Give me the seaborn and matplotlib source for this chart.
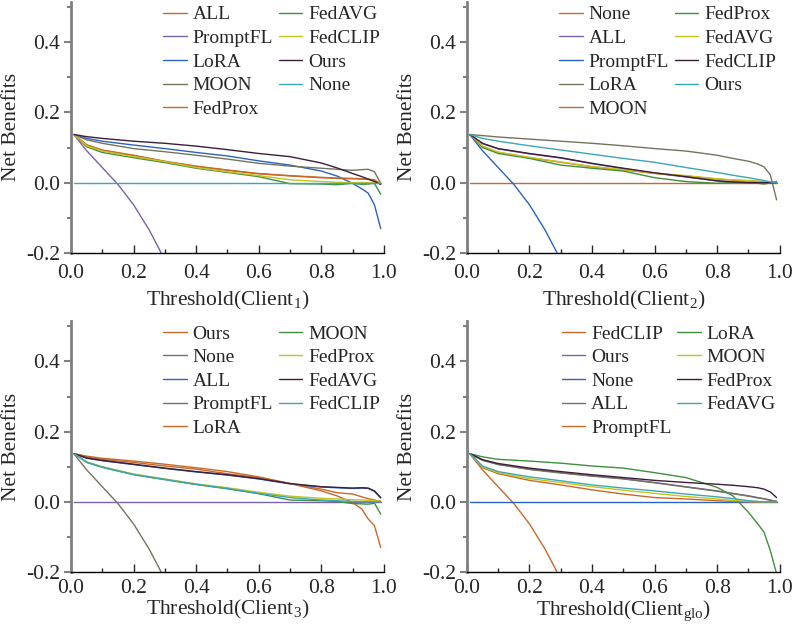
import matplotlib
matplotlib.use("Agg")
import matplotlib.pyplot as plt
import seaborn as sns
from matplotlib import font_manager
from matplotlib.ticker import MultipleLocator, FormatStrFormatter

# colour cycle used in every panel (legend order)
COLORS = ["#C8692A", "#7A62A6", "#2B62C0", "#74745E", "#C8692A",
          "#3F8F3F", "#C4C41E", "#3C1E3C", "#3DA6B6"]

X = [0.01, 0.05, 0.1, 0.2, 0.3, 0.4, 0.5, 0.6, 0.7, 0.8, 0.85, 0.9, 0.93, 0.95, 0.97, 0.99]
ZERO = [0.0] * len(X)

# treat-all curve (steep one)
TA_X = [0.01, 0.05, 0.1, 0.15, 0.2, 0.25, 0.3]
TA_Y = [0.136, 0.091, 0.043, -0.005, -0.063, -0.135, -0.22]

# ---- Client 1 ----
c1_labels = ["ALL", "PromptFL", "LoRA", "MOON", "FedProx", "FedAVG", "FedCLIP", "Ours", "None"]
c1_all = [0.137, 0.107, 0.092, 0.077, 0.060, 0.046, 0.035, 0.025, 0.019, 0.014, 0.012, 0.011, 0.010, 0.009, 0.007, -0.004]
c1_lora = [0.137, 0.126, 0.118, 0.107, 0.097, 0.086, 0.076, 0.062, 0.050, 0.033, 0.019, -0.002, -0.018, -0.030, -0.063, -0.131]
c1_moon = [0.137, 0.122, 0.112, 0.097, 0.088, 0.078, 0.067, 0.055, 0.047, 0.041, 0.038, 0.035, 0.037, 0.038, 0.031, -0.002]
c1_fedprox = [0.137, 0.108, 0.093, 0.078, 0.061, 0.047, 0.036, 0.026, 0.020, 0.015, 0.013, 0.012, 0.011, 0.010, 0.008, -0.004]
c1_fedavg = [0.137, 0.102, 0.086, 0.071, 0.057, 0.041, 0.029, 0.017, -0.003, -0.004, -0.006, -0.002, -0.005, -0.004, -0.002, -0.033]
c1_fedclip = [0.137, 0.105, 0.090, 0.074, 0.060, 0.043, 0.031, 0.020, 0.008, 0.003, 0.001, 0.000, 0.000, 0.000, 0.000, -0.002]
c1_ours = [0.137, 0.131, 0.126, 0.118, 0.112, 0.104, 0.094, 0.083, 0.074, 0.056, 0.042, 0.026, 0.017, 0.010, 0.003, -0.005]

# ---- Client 2 ----
c2_labels = ["None", "ALL", "PromptFL", "LoRA", "MOON", "FedProx", "FedAVG", "FedCLIP", "Ours"]
c2_all = [0.137, 0.111, 0.096, 0.082, 0.070, 0.054, 0.040, 0.027, 0.016, 0.005, 0.002, 0.000, 0.000, 0.000, 0.000, 0.000]
c2_lora = [0.137, 0.134, 0.130, 0.124, 0.118, 0.112, 0.105, 0.097, 0.090, 0.078, 0.069, 0.061, 0.053, 0.045, 0.022, -0.049]
c2_moon = [0.137, 0.103, 0.086, 0.071, 0.058, 0.045, 0.036, 0.026, 0.019, 0.010, 0.007, 0.005, 0.003, 0.002, 0.001, 0.000]
c2_fedprox = [0.137, 0.100, 0.083, 0.069, 0.050, 0.041, 0.033, 0.014, 0.003, -0.002, 0.001, 0.000, -0.002, -0.004, -0.001, 0.003]
c2_fedavg = [0.137, 0.104, 0.087, 0.072, 0.059, 0.046, 0.037, 0.027, 0.020, 0.011, 0.008, 0.006, 0.004, 0.003, 0.002, 0.000]
c2_fedclip = [0.137, 0.112, 0.097, 0.083, 0.071, 0.055, 0.041, 0.028, 0.017, 0.005, 0.002, 0.000, 0.000, 0.000, 0.000, 0.000]
c2_ours = [0.137, 0.126, 0.118, 0.105, 0.093, 0.081, 0.069, 0.058, 0.043, 0.029, 0.021, 0.014, 0.009, 0.006, 0.002, 0.000]

# ---- Client 3 ----
c3_labels = ["Ours", "None", "ALL", "PromptFL", "LoRA", "MOON", "FedProx", "FedAVG", "FedCLIP"]
c3_ours = [0.137, 0.128, 0.121, 0.112, 0.102, 0.093, 0.080, 0.069, 0.052, 0.036, 0.026, 0.022, 0.014, 0.009, 0.005, 0.001]
c3_all = [0.137, 0.124, 0.117, 0.106, 0.095, 0.085, 0.076, 0.065, 0.051, 0.042, 0.040, 0.038, 0.039, 0.038, 0.030, 0.011]
c3_lora = [0.137, 0.130, 0.124, 0.116, 0.107, 0.097, 0.086, 0.071, 0.052, 0.031, 0.017, -0.002, -0.021, -0.049, -0.068, -0.130]
c3_moon = [0.137, 0.112, 0.098, 0.077, 0.063, 0.049, 0.037, 0.023, 0.005, 0.003, 0.001, -0.005, -0.006, -0.007, -0.004, -0.035]
c3_fedprox = [0.137, 0.114, 0.100, 0.079, 0.065, 0.051, 0.040, 0.027, 0.016, 0.010, 0.008, 0.006, 0.005, 0.004, 0.003, 0.002]
c3_fedavg = [0.137, 0.125, 0.118, 0.107, 0.096, 0.086, 0.077, 0.066, 0.052, 0.043, 0.041, 0.039, 0.040, 0.039, 0.031, 0.012]
c3_fedclip = [0.137, 0.113, 0.099, 0.078, 0.064, 0.050, 0.038, 0.024, 0.012, 0.005, 0.003, 0.001, 0.000, 0.000, 0.000, 0.000]

# ---- Client glo ----
c4_labels = ["FedCLIP", "Ours", "None", "ALL", "PromptFL", "LoRA", "MOON", "FedProx", "FedAVG"]
c4_ours = [0.137, 0.119, 0.107, 0.093, 0.083, 0.074, 0.066, 0.055, 0.043, 0.031, 0.024, 0.017, 0.012, 0.009, 0.005, 0.001]
c4_all = [0.137, 0.118, 0.106, 0.092, 0.082, 0.073, 0.065, 0.054, 0.042, 0.030, 0.023, 0.016, 0.011, 0.008, 0.004, 0.001]
c4_promptfl = [0.137, 0.097, 0.080, 0.061, 0.048, 0.034, 0.022, 0.012, 0.008, 0.003, 0.001, 0.000, 0.000, 0.000, 0.000, 0.000]
c4_lora = [0.137, 0.128, 0.121, 0.116, 0.110, 0.102, 0.096, 0.083, 0.069, 0.041, 0.017, -0.030, -0.063, -0.087, -0.139, -0.205]
c4_moon = [0.137, 0.099, 0.083, 0.066, 0.055, 0.043, 0.033, 0.024, 0.015, 0.008, 0.004, 0.001, 0.000, 0.000, 0.000, 0.000]
c4_fedprox = [0.137, 0.120, 0.109, 0.096, 0.086, 0.077, 0.069, 0.061, 0.055, 0.050, 0.047, 0.043, 0.040, 0.036, 0.028, 0.012]
c4_fedavg = [0.137, 0.102, 0.086, 0.071, 0.060, 0.048, 0.039, 0.031, 0.022, 0.014, 0.009, 0.003, 0.001, 0.000, 0.000, 0.000]

TA = "treat_all"
panels = [
    ("1", c1_labels, [c1_all, TA, c1_lora, c1_moon, c1_fedprox, c1_fedavg, c1_fedclip, c1_ours, ZERO]),
    ("2", c2_labels, [ZERO, c2_all, TA, c2_lora, c2_moon, c2_fedprox, c2_fedavg, c2_fedclip, c2_ours]),
    ("3", c3_labels, [c3_ours, ZERO, c3_all, TA, c3_lora, c3_moon, c3_fedprox, c3_fedavg, c3_fedclip]),
    ("glo", c4_labels, [TA, c4_ours, ZERO, c4_all, c4_promptfl, c4_lora, c4_moon, c4_fedprox, c4_fedavg]),
]

# pick a Times-like serif font
available = {f.name for f in font_manager.fontManager.ttflist}
serif = "DejaVu Serif"
for cand in ["Liberation Serif", "Times New Roman", "Nimbus Roman", "TeX Gyre Termes", "FreeSerif"]:
    if cand in available:
        serif = cand
        break

sns.set_style("ticks")
plt.rcParams["font.family"] = [serif, "DejaVu Serif"]
plt.rcParams["mathtext.fontset"] = "custom"
plt.rcParams["mathtext.rm"] = serif
plt.rcParams["mathtext.default"] = "regular"

fig = plt.figure(figsize=(7.94, 6.32), dpi=100)
# rect, tick-label pad, x-label y position (axes coords)
layout = [
    ([0.0894, 0.600, 0.394, 0.397], 8, -0.143),
    ([0.588, 0.600, 0.394, 0.397], 8, -0.143),
    ([0.0894, 0.095, 0.394, 0.397], 5, -0.104),
    ([0.588, 0.095, 0.394, 0.397], 5, -0.104),
]

for (rect, xpad, xlab_y), (client, labels, series) in zip(layout, panels):
    ax = fig.add_axes(rect)
    for lab, ys, col in zip(labels, series, COLORS):
        if isinstance(ys, str):
            sns.lineplot(x=TA_X, y=TA_Y, color=col, label=lab, ax=ax, linewidth=1.0)
        else:
            sns.lineplot(x=X, y=ys, color=col, label=lab, ax=ax, linewidth=1.0)

    ax.set_xlim(0, 1.0)
    ax.set_ylim(-0.2, 0.515)
    ax.xaxis.set_major_locator(MultipleLocator(0.2))
    ax.xaxis.set_minor_locator(MultipleLocator(0.1))
    ax.yaxis.set_major_locator(MultipleLocator(0.2))
    ax.yaxis.set_minor_locator(MultipleLocator(0.1))
    ax.xaxis.set_major_formatter(FormatStrFormatter("%.1f"))
    ax.yaxis.set_major_formatter(FormatStrFormatter("%.1f"))
    ax.tick_params(axis="x", which="major", direction="in", length=6, width=1, labelsize=15.5, pad=xpad)
    ax.tick_params(axis="x", which="minor", direction="in", length=3, width=1)
    ax.tick_params(axis="y", which="major", direction="out", length=5, width=1.5, color="#808080",
                   labelsize=15.5, pad=3)
    ax.tick_params(axis="y", which="minor", direction="out", length=3, width=1.5, color="#808080")
    sns.despine(ax=ax)
    ax.spines["left"].set_color("#808080")
    ax.spines["left"].set_linewidth(2)
    ax.spines["bottom"].set_color("black")
    ax.spines["bottom"].set_linewidth(1)

    ax.set_xlabel(f"Threshold(Client$_{{{client}}}$)", fontsize=15.5)
    ax.xaxis.set_label_coords(0.5, xlab_y)
    ax.set_ylabel("Net Benefits", fontsize=15.5)
    ax.yaxis.set_label_coords(-0.16, 0.5)

    ax.legend(loc="upper right", ncol=2, frameon=False, fontsize=14,
              handlelength=1.2, handletextpad=0.3, columnspacing=0.3,
              labelspacing=0.31, borderaxespad=0.0, borderpad=0.2,
              bbox_to_anchor=(1.0, 1.0))

fig.savefig("out.png", dpi=100)
